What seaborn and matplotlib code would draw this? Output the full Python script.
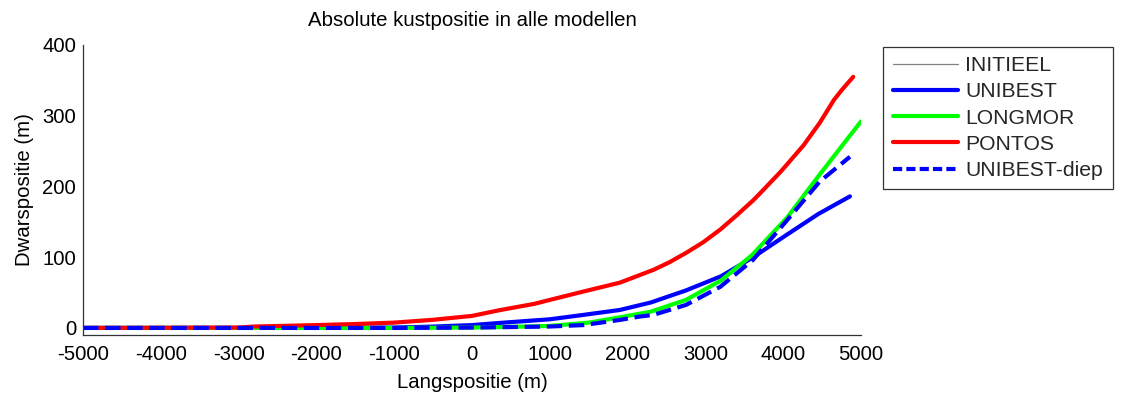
import numpy as np
import pandas as pd
import matplotlib
matplotlib.use("Agg")
import matplotlib.pyplot as plt
from matplotlib.lines import Line2D
import seaborn as sns

# ---- data ----
# INITIEEL is only present in the legend (no visible line in the plot area)
x_initieel = []
y_initieel = []

x_unibest = [-5000, -2000, -1000, -500, 0, 300, 1000, 1430, 1900, 2300, 2750, 3200, 3600, 4050, 4450, 4858]
y_unibest = [0, 0, 0.5, 1.9, 4, 6.6, 12.2, 18.4, 25.4, 36, 53, 73, 99, 132, 161, 186]

x_longmor = [-5000, -1000, 0, 500, 1000, 1500, 1900, 2300, 2750, 3200, 3600, 4050, 4470, 5000]
y_longmor = [0, 0, 0.5, 1.5, 2.8, 7.5, 15, 23, 39.6, 67, 103, 156, 217, 292]

x_pontos = [-5000, -3000, -2800, -2000, -1500, -1000, -500, 0, 350, 800, 1000, 1430, 1900, 2330, 2540, 2750, 2970, 3190, 3400, 3610, 3700, 3960, 4040, 4260, 4470, 4650, 4750, 4900]
y_pontos = [0, 0.5, 2, 4, 5.5, 7.5, 11.5, 17, 25, 34, 39.6, 51.4, 64, 82, 93, 106, 121, 139, 159, 180, 190, 220, 230, 258, 290, 322, 336, 355]

x_diep = [-5000, -1000, 0, 1000, 1430, 1900, 2150, 2330, 2750, 3190, 3610, 4040, 4470, 4858]
y_diep = [0, 0, 0.5, 2, 4, 11.3, 16, 18.4, 32.5, 58, 96, 151, 207, 242]

labels = ["INITIEEL", "UNIBEST", "LONGMOR", "PONTOS", "UNIBEST-diep"]
colors = ["#808080", "#0000ff", "#00ff00", "#ff0000", "#0000ff"]

sns.set_theme(style="white")
plt.rcParams["font.family"] = ["Liberation Sans", "DejaVu Sans"]
plt.rcParams["axes.unicode_minus"] = False

W, H = 1123, 394
fig = plt.figure(figsize=(W / 100, H / 100), dpi=100)
ax = fig.add_axes([83 / W, 1 - 335 / H, (861 - 83) / W, (335 - 45) / H])

series = [
    (x_unibest, y_unibest, labels[1], colors[1], "-"),
    (x_longmor, y_longmor, labels[2], colors[2], "-"),
    (x_pontos, y_pontos, labels[3], colors[3], "-"),
    (x_diep, y_diep, labels[4], colors[4], "--"),
]
if len(x_initieel):
    sns.lineplot(x=x_initieel, y=y_initieel, ax=ax, color=colors[0], lw=0.9, legend=False)
for xs, ys, lab, col, ls in series:
    df = pd.DataFrame({"x": xs, "y": ys})
    kw = {}
    if ls == "--":
        kw["dashes"] = (2.2, 1.0)
    sns.lineplot(data=df, x="x", y="y", ax=ax, color=col, lw=3.0,
                 linestyle=ls, sort=False, legend=False, **kw)

handles = [Line2D([], [], color=colors[0], lw=0.9)]
for _, _, lab, col, ls in series:
    if ls == "--":
        handles.append(Line2D([], [], color=col, lw=3.0, linestyle=(0, (2.2, 1.0))))
    else:
        handles.append(Line2D([], [], color=col, lw=3.0))

ax.set_xlim(-5000, 5000)
ax.set_ylim(-10, 400)
ax.set_xticks(np.arange(-5000, 5001, 1000))
ax.set_yticks([0, 100, 200, 300, 400])

for side in ["top", "right"]:
    ax.spines[side].set_visible(False)
for side in ["left", "bottom"]:
    ax.spines[side].set_color("#333333")
    ax.spines[side].set_linewidth(0.9)

ax.tick_params(axis="both", direction="in", length=5.5, width=0.9, color="#333333",
               labelsize=14.6, labelcolor="black", pad=5)
ax.tick_params(axis="x", pad=7)

ax.set_xlabel("Langspositie (m)", fontsize=14.7, color="black", labelpad=6.5)
ax.set_ylabel("Dwarspositie (m)", fontsize=14.7, color="black", labelpad=6)
ax.set_title("Absolute kustpositie in alle modellen", fontsize=14.7, color="black", pad=13.6)

leg = ax.legend(handles, labels, loc="upper left", bbox_to_anchor=(883 / W, 1 - 46.7 / H),
                bbox_transform=fig.transFigure, borderaxespad=0,
                fontsize=15.2, frameon=True, fancybox=False, shadow=False,
                handlelength=3.1, handletextpad=0.35, labelspacing=0.34,
                borderpad=0.45)
leg.get_frame().set_edgecolor("#333333")
leg.get_frame().set_linewidth(0.9)
leg.get_frame().set_alpha(1)

fig.savefig("out.png", dpi=100)
